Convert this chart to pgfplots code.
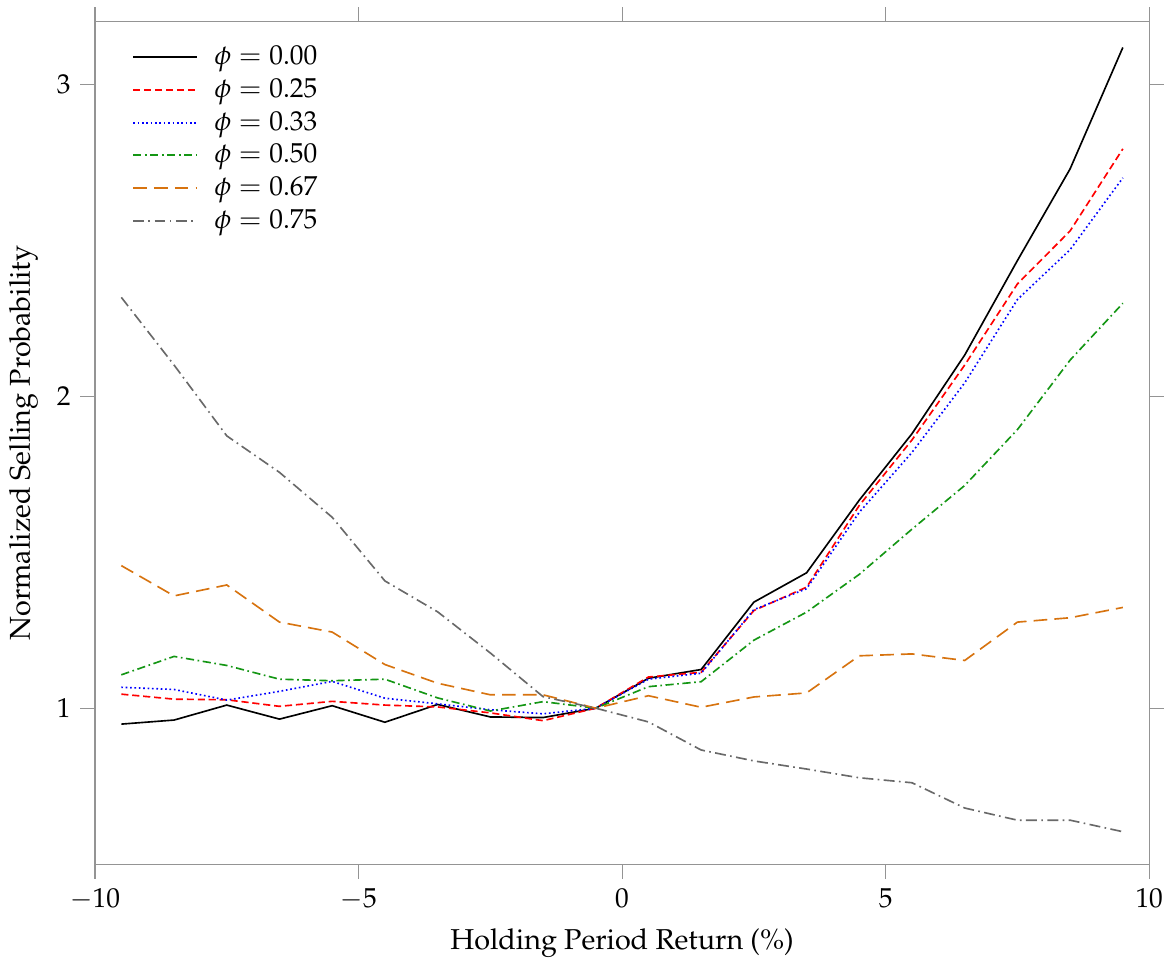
\documentclass[border=0pt]{standalone}
\usepackage[T1]{fontenc}
\usepackage{mathpazo}
\usepackage{pgfplots}
\pgfplotsset{compat=1.18}

\definecolor{cgreen}{RGB}{20,150,20}
\definecolor{corange}{RGB}{215,115,15}
\definecolor{cgray}{RGB}{105,105,105}

\begin{document}
\begin{tikzpicture}
\begin{axis}[
    width=385pt, height=307.6pt, scale only axis,
    xmin=-10, xmax=10, ymin=0.5, ymax=3.2,
    xtick={-10,-5,0,5,10}, ytick={1,2,3},
    tick align=outside, major tick length=5.4pt,
    axis line style={black!42},
    tick style={black!42, line width=0.4pt},
    xlabel={Holding Period Return (\%)},
    ylabel={Normalized Selling Probability},
    label style={font=\fontsize{10.5}{12.6}\selectfont},
    legend style={draw=none, fill=none, at={(0.027,0.985)}, anchor=north west,
                  row sep=-0.4pt, font=\normalsize,
                  /tikz/every odd column/.append style={column sep=4pt}},
    legend cell align=left,
    legend image code/.code={\draw[line width=0.7pt,#1] (0cm,0cm) -- (0.82cm,0cm);},
    every axis plot/.append style={line width=0.6pt},
]
% phi = 0.00
\addplot[black] coordinates {
 (-9.5,0.949) (-8.5,0.962) (-7.5,1.010) (-6.5,0.965) (-5.5,1.008) (-4.5,0.955)
 (-3.5,1.012) (-2.5,0.972) (-1.5,0.970) (-0.5,1.000) (0.5,1.096) (1.5,1.124)
 (2.5,1.340) (3.5,1.434) (4.5,1.667) (5.5,1.880) (6.5,2.132) (7.5,2.435)
 (8.5,2.729) (9.5,3.118)};
\addlegendentry{$\phi = 0.00$}
% phi = 0.25
\addplot[red, dash pattern=on 2.6pt off 1.4pt] coordinates {
 (-9.5,1.045) (-8.5,1.029) (-7.5,1.027) (-6.5,1.006) (-5.5,1.022) (-4.5,1.010)
 (-3.5,1.004) (-2.5,0.985) (-1.5,0.960) (-0.5,1.000) (0.5,1.100) (1.5,1.115)
 (2.5,1.313) (3.5,1.388) (4.5,1.650) (5.5,1.860) (6.5,2.100) (7.5,2.360)
 (8.5,2.530) (9.5,2.793)};
\addlegendentry{$\phi = 0.25$}
% phi = 0.33
\addplot[blue, densely dotted] coordinates {
 (-9.5,1.067) (-8.5,1.060) (-7.5,1.026) (-6.5,1.054) (-5.5,1.086) (-4.5,1.032)
 (-3.5,1.014) (-2.5,0.995) (-1.5,0.982) (-0.5,1.000) (0.5,1.093) (1.5,1.112)
 (2.5,1.316) (3.5,1.383) (4.5,1.628) (5.5,1.820) (6.5,2.043) (7.5,2.310)
 (8.5,2.470) (9.5,2.700)};
\addlegendentry{$\phi = 0.33$}
% phi = 0.50
\addplot[cgreen, dash pattern=on 3pt off 1.3pt on 0.6pt off 1.3pt] coordinates {
 (-9.5,1.107) (-8.5,1.166) (-7.5,1.137) (-6.5,1.093) (-5.5,1.088) (-4.5,1.093)
 (-3.5,1.033) (-2.5,0.991) (-1.5,1.021) (-0.5,1.000) (0.5,1.069) (1.5,1.085)
 (2.5,1.218) (3.5,1.308) (4.5,1.429) (5.5,1.574) (6.5,1.714) (7.5,1.893)
 (8.5,2.116) (9.5,2.298)};
\addlegendentry{$\phi = 0.50$}
% phi = 0.67
\addplot[corange, dash pattern=on 5pt off 2.6pt] coordinates {
 (-9.5,1.457) (-8.5,1.360) (-7.5,1.395) (-6.5,1.276) (-5.5,1.244) (-4.5,1.140)
 (-3.5,1.080) (-2.5,1.043) (-1.5,1.043) (-0.5,1.000) (0.5,1.040) (1.5,1.003)
 (2.5,1.036) (3.5,1.049) (4.5,1.168) (5.5,1.174) (6.5,1.153) (7.5,1.276)
 (8.5,1.290) (9.5,1.323)};
\addlegendentry{$\phi = 0.67$}
% phi = 0.75
\addplot[cgray, dash pattern=on 4pt off 1.6pt on 0.6pt off 1.6pt] coordinates {
 (-9.5,2.317) (-8.5,2.100) (-7.5,1.873) (-6.5,1.756) (-5.5,1.612) (-4.5,1.408)
 (-3.5,1.309) (-2.5,1.177) (-1.5,1.037) (-0.5,1.000) (0.5,0.956) (1.5,0.866)
 (2.5,0.831) (3.5,0.805) (4.5,0.777) (5.5,0.761) (6.5,0.680) (7.5,0.641)
 (8.5,0.641) (9.5,0.604)};
\addlegendentry{$\phi = 0.75$}
\end{axis}
% a little white space above and to the right, as in the reference
\path ([shift={(2.6pt,8pt)}]current axis.north east);
\end{tikzpicture}
\end{document}
